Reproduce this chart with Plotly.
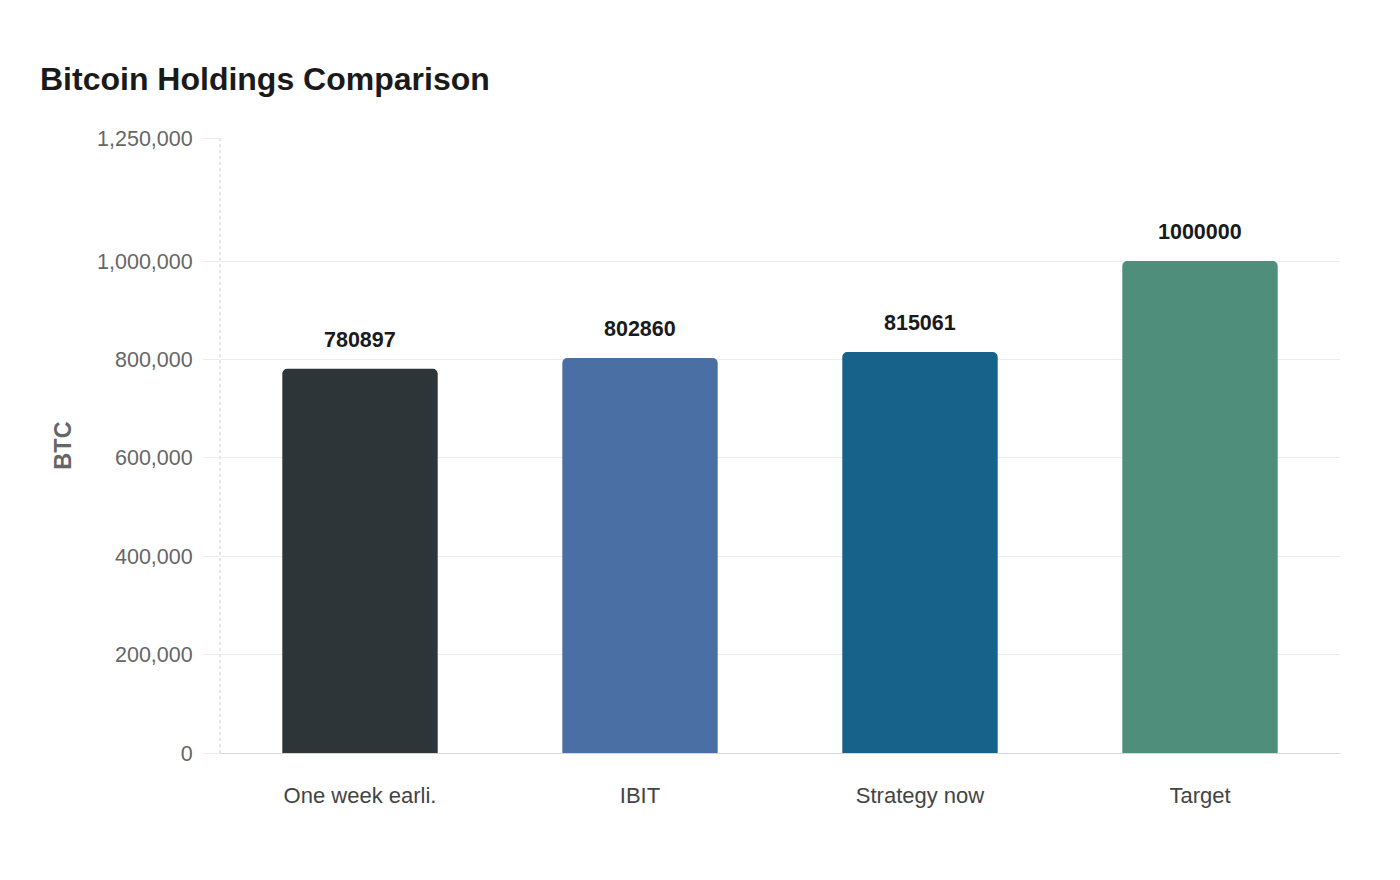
import plotly.graph_objects as go

# data
categories = ["One week earli.", "IBIT", "Strategy now", "Target"]
holdings = [780897, 802860, 815061, 1000000]
bar_colors = ["#2e3538", "#4a6fa5", "#17628a", "#4e8e7b"]
y_ticks = [0, 200000, 400000, 600000, 800000, 1000000, 1250000]

FONT = "Liberation Sans, Arial, sans-serif"

fig = go.Figure()
fig.add_trace(go.Bar(
    x=categories, y=holdings,
    marker=dict(color=bar_colors, line=dict(width=0)),
    width=0.555,
    hoverinfo="x+y",
))

# value labels above the bars
for cat, val in zip(categories, holdings):
    fig.add_annotation(x=cat, y=val, text=f"<b>{val}</b>", showarrow=False,
                       yanchor="bottom", yshift=15,
                       font=dict(family=FONT, size=21.5, color="#1a1a1a"))

# dotted left axis line
fig.add_shape(type="line", xref="paper", yref="paper", x0=0, x1=0, y0=0, y1=1,
              line=dict(color="#cccccc", width=1, dash="dot"), layer="below")

fig.update_layout(
    width=1400, height=880,
    margin=dict(l=212, r=68, t=130, b=135),
    paper_bgcolor="white", plot_bgcolor="white",
    font=dict(family=FONT, color="#666666"),
    title=dict(text="<b>Bitcoin Holdings Comparison</b>", x=32/1400, xanchor="left",
               y=1 - 71/880, yanchor="middle",
               font=dict(family=FONT, size=32, color="#1a1a1a")),
    showlegend=False,
    barcornerradius=5,
    bargap=0.445,
)
fig.update_yaxes(
    range=[0, 1250000], tickvals=y_ticks, tickformat=",",
    showgrid=True, gridcolor="#ececec", gridwidth=1,
    zeroline=False, showline=False,
    ticks="outside", ticklen=16, tickcolor="#ececec",
    ticklabelstandoff=6,
    tickfont=dict(family=FONT, size=21.5, color="#666666"),
    title=dict(text="<b>BTC</b>", standoff=18, font=dict(family=FONT, size=23.5, color="#666666")),
)
fig.update_xaxes(
    showline=True, linecolor="#d6d6d6", linewidth=1,
    showgrid=False, ticks="", ticklabelstandoff=23,
    tickfont=dict(family=FONT, size=22, color="#444444"),
)

fig.write_html("out.html")
